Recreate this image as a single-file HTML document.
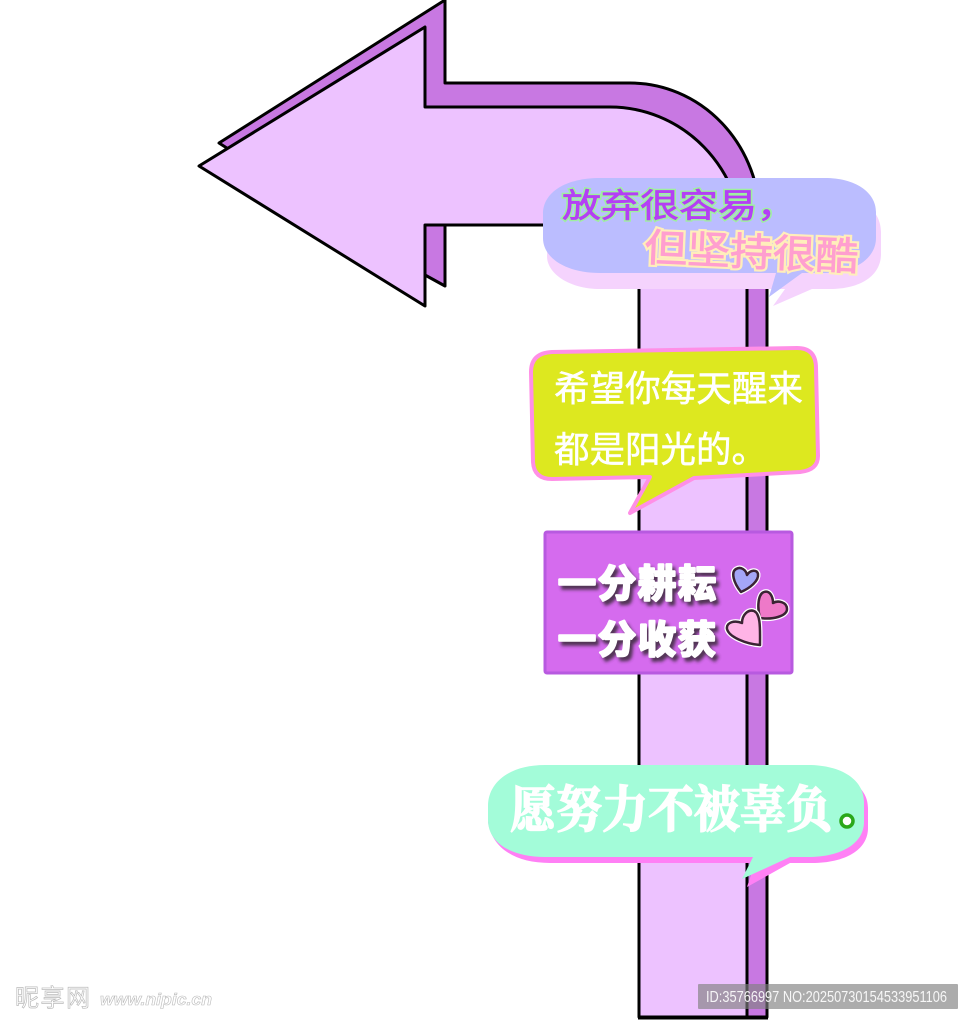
<!DOCTYPE html>
<html><head><meta charset="utf-8">
<style>html,body{margin:0;padding:0;background:#fff}svg{display:block}
text{font-family:"Liberation Sans","Noto Sans CJK SC",sans-serif}</style></head>
<body>
<svg xmlns="http://www.w3.org/2000/svg" width="973" height="1024" viewBox="0 0 973 1024">
<defs><filter id="b" x="-10%" y="-10%" width="130%" height="130%"><feGaussianBlur stdDeviation="1.6"/></filter></defs>
<!-- back arrow -->
<path d="M219 143 L445 0 V83 H630 A130 137 0 0 1 760 220 L767 285 V1017 H640 V225 H445 V286 L425 275 Z" fill="#c878e2" stroke="#000" stroke-width="3" stroke-linejoin="round"/>
<!-- front arrow -->
<path d="M199 166 L425 27 V107 H610 A133 137 0 0 1 743 244 L747 285 V1017 H639 V225 H425 V306 Z" fill="#edc2ff" stroke="#000" stroke-width="3" stroke-linejoin="round"/>
<path d="M425 225 H639" stroke="#000" stroke-width="3"/>
<path d="M638 1017.500 H768" stroke="#000" stroke-width="4"/>

<!-- bubble 1 -->
<path d="M548 232 C548 205 575 194 593 194 H835 C860 194 881 210 881 232 V254 C881 276 860 289 830 289 H812 L773 306 L785 289 H600 C570 289 547 274 547 256 Z" fill="#f5d3fd"/>
<path d="M543 214 C543 192 566 178 600 178 H825 C855 178 876 192 876 212 V238 C876 258 855 273 825 273 H802 L769 297 L776 273 H600 C566 273 543 258 543 238 Z" fill="#bbbdff"/>
<text x="562" y="217" font-size="33" textLength="234" lengthAdjust="spacingAndGlyphs" fill="none" stroke="#9ff0a0" stroke-width="3.500">放弃很容易，</text>
<text x="562" y="217" font-size="33" textLength="234" lengthAdjust="spacingAndGlyphs" fill="#b43ff5" stroke="#b43ff5" stroke-width=".7">放弃很容易，</text>
<g transform="rotate(2.500 644 261)">
<text x="644" y="261" font-size="39" textLength="214" lengthAdjust="spacingAndGlyphs" fill="none" stroke="#ffeebb" stroke-width="5">但坚持很酷</text>
<text x="644" y="261" font-size="39" textLength="214" lengthAdjust="spacingAndGlyphs" fill="#ff9fcf" stroke="#ff9fcf" stroke-width=".8">但坚持很酷</text>
</g>

<!-- bubble 2 -->
<path d="M552 352 L797 348 Q816 348 816 368 L818 456 Q818 470 800 472 L694 478 L630 513 L650 477 L552 479 Q534 479 533 462 L531 372 Q531 353 552 352 Z" fill="#dde81f" stroke="#ff8fe6" stroke-width="4" stroke-linejoin="round"/>
<text x="554" y="401" font-size="36" textLength="249" lengthAdjust="spacingAndGlyphs" fill="#fff" stroke="#fff" stroke-width=".5">希望你每天醒来</text>
<text x="554" y="462" font-size="36" textLength="213" lengthAdjust="spacingAndGlyphs" fill="#fff" stroke="#fff" stroke-width=".5">都是阳光的。</text>

<!-- purple box -->
<rect x="545" y="532" width="247" height="141" rx="2" fill="#d56bee" stroke="#b85ae0" stroke-width="3"/>
<g font-size="38" font-weight="700" stroke-linejoin="round">
<g fill="#3a2a3a" stroke="#3a2a3a" stroke-width="2.500" filter="url(#b)" opacity=".85">
<text x="561" y="601" textLength="158">一分耕耘</text>
<text x="561" y="657" textLength="158">一分收获</text></g>
<g fill="#fff" stroke="#fff" stroke-width="2.500">
<text x="558" y="597" textLength="158">一分耕耘</text>
<text x="558" y="653" textLength="158">一分收获</text></g>
</g>
<!-- hearts -->
<g stroke-linejoin="round">
<path d="M741 592 C733 582 731 572 736 569 C741 566 746 570 747 575 C750 570 757 569 758 574 C759 581 750 588 741 592 Z" fill="none" stroke="#fff" stroke-width="5"/>
<path d="M741 592 C733 582 731 572 736 569 C741 566 746 570 747 575 C750 570 757 569 758 574 C759 581 750 588 741 592 Z" fill="#a4a6f7" stroke="#3a2333" stroke-width="2.500"/>
<path d="M760 618 C757 607 758 594 764 592 C770 590 773 597 773 603 C778 600 787 602 787 609 C787 616 773 620 760 618 Z" fill="none" stroke="#fff" stroke-width="5"/>
<path d="M760 618 C757 607 758 594 764 592 C770 590 773 597 773 603 C778 600 787 602 787 609 C787 616 773 620 760 618 Z" fill="#ee79c8" stroke="#3a2333" stroke-width="2.500"/>
<path d="M760 645 C746 644 729 637 727 629 C726 622 735 620 742 623 C742 615 748 609 754 611 C761 614 760 630 760 645 Z" fill="none" stroke="#fff" stroke-width="5"/>
<path d="M760 645 C746 644 729 637 727 629 C726 622 735 620 742 623 C742 615 748 609 754 611 C761 614 760 630 760 645 Z" fill="#ffb4e6" stroke="#3a2333" stroke-width="2.500"/>
</g>

<!-- bubble 4 -->
<path d="M492 812 C492 788 515 772 548 772 H812 C845 772 868 786 868 808 V828 C868 850 845 863 812 863 H790 L747 887 L755 863 H550 C515 863 492 848 488 822 Z" fill="#ff80f5"/>
<path d="M488 806 C488 782 510 765 545 765 H808 C842 765 864 780 864 802 V822 C864 843 842 857 808 857 H790 L742 879 L753 857 H545 C510 857 488 842 488 820 Z" fill="#a3fcd9"/>
<text x="510" y="827" font-size="50" font-weight="700" textLength="322" lengthAdjust="spacingAndGlyphs" fill="#fff" stroke="#fff" stroke-width="1.500" style="font-family:'Liberation Serif','Noto Serif CJK SC',serif">愿努力不被辜负</text>
<circle cx="847" cy="821" r="6" fill="#fff" stroke="#2aa81a" stroke-width="3.500"/>

<!-- watermarks -->
<text x="15" y="1006" font-size="24" textLength="75" fill="#fff" stroke="#bbb" stroke-width=".7">昵享网</text>
<text x="100" y="1005" font-size="17" font-weight="700" font-style="italic" textLength="112" lengthAdjust="spacingAndGlyphs" fill="#fff" stroke="#bbb" stroke-width=".6">www.nipic.cn</text>
<rect x="698" y="984" width="260" height="25" rx="1" fill="#808080" fill-opacity=".65"/>
<text x="706" y="1002" font-size="16" textLength="241" lengthAdjust="spacingAndGlyphs" fill="#fff" fill-opacity=".9">ID:35766997 NO:20250730154533951106</text>
</svg>
</body></html>
